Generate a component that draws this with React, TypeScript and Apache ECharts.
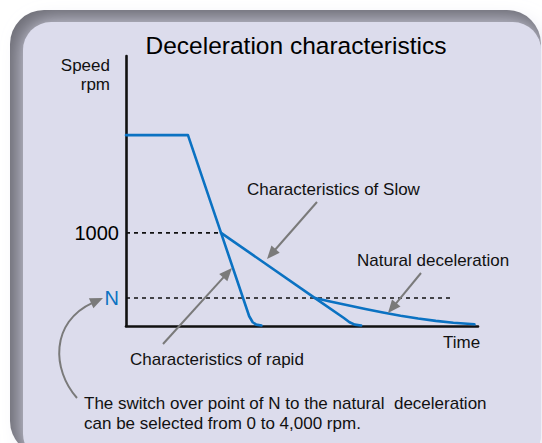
import React, { useEffect, useRef } from 'react';
import * as echarts from 'echarts';

// ---- data (time in arbitrary units 0..100, speed in rpm) ----
const timeRapid = [0, 17.6, 27, 35, 36, 37, 38.5];
const speedRapid = [2050, 2050, 1000, 105, 40, 15, 5];
const timeSlow = [27, 53.7, 61.9, 63.5, 65, 66.8];
const speedSlow = [1000, 300, 86, 40, 15, 5];
const timeNatural = [53.7, 58, 63, 68, 73, 78, 83, 88, 93, 99];
const speedNatural = [300, 262, 222, 182, 145, 110, 80, 55, 35, 18];
const levelValues = [300, 1000];
const levelLabels = ['N', '1000'];
const levelDashEnds = [92.6, 27];

const FONT = "'Liberation Sans', Arial, Helvetica, sans-serif";
const BLUE = '#0b72c2';
const ARROW = '#7a7a7a';

const zip = (xs: number[], ys: number[]) => xs.map((x, i) => [x, ys[i]]);

function arrow(x1: number, y1: number, x2: number, y2: number, dirFrom?: [number, number]) {
  const fx = dirFrom ? dirFrom[0] : x1;
  const fy = dirFrom ? dirFrom[1] : y1;
  const dx = x2 - fx, dy = y2 - fy;
  const len = Math.hypot(dx, dy);
  const ux = dx / len, uy = dy / len;
  const hl = 13, hw = 5.5;
  const bx = x2 - ux * hl, by = y2 - uy * hl;
  const nx = -uy, ny = ux;
  return {
    base: [bx + ux * 2, by + uy * 2],
    head: {
      type: 'polygon',
      shape: { points: [[x2, y2], [bx + nx * hw, by + ny * hw], [bx - nx * hw, by - ny * hw]] },
      style: { fill: ARROW },
      z: 50,
    },
  };
}

function straightArrow(x1: number, y1: number, x2: number, y2: number) {
  const a = arrow(x1, y1, x2, y2);
  return [
    {
      type: 'line',
      shape: { x1, y1, x2: a.base[0], y2: a.base[1] },
      style: { stroke: ARROW, lineWidth: 2 },
      z: 50,
    },
    a.head,
  ];
}

function text(x: number, y: number, t: string, size: number, align = 'left', fill = '#111') {
  return {
    type: 'text',
    x,
    y,
    z: 50,
    style: {
      text: t,
      fill,
      font: `${size}px ${FONT}`,
      textAlign: align,
      textVerticalAlign: 'middle',
    },
  };
}

export default function App() {
  const ref = useRef<HTMLDivElement>(null);
  useEffect(() => {
    if (!ref.current) return;
    const chart = echarts.init(ref.current, undefined, { renderer: 'svg' });

    const nTip: [number, number] = [103, 298];
    const nCp2: [number, number] = [50, 322];
    const nArrow = arrow(77, 398, nTip[0], nTip[1], nCp2);

    const graphics: any[] = [
      {
        type: 'rect',
        shape: { x: 10, y: 10, width: 531, height: 445, r: 34 },
        style: { fill: '#6c6c75' },
        z: -100,
      },
      {
        type: 'rect',
        shape: { x: 23, y: 22, width: 518, height: 440, r: 28 },
        style: { fill: '#dcdcec', shadowBlur: 22, shadowColor: '#dcdcec' },
        z: -99,
      },
      {
        type: 'rect',
        shape: { x: 24, y: 23, width: 517, height: 440, r: 28 },
        style: { fill: '#dcdcec' },
        z: -98,
      },
      text(296, 45, 'Deceleration characteristics', 24.5, 'center', '#000'),
      text(110, 65, 'Speed', 17, 'right'),
      text(110, 84, 'rpm', 17, 'right'),
      text(443, 342, 'Time', 17),
      text(247, 189, 'Characteristics of Slow', 17),
      text(357, 260, 'Natural deceleration', 17),
      text(130, 359, 'Characteristics of rapid', 17),
      text(84, 403, 'The switch over point of N to the natural  deceleration', 17),
      text(84, 423, 'can be selected from 0 to 4,000 rpm.', 17),
      ...straightArrow(317, 202, 267, 259),
      ...straightArrow(421, 273, 388, 313),
      ...straightArrow(163, 344, 232, 268),
      {
        type: 'bezierCurve',
        shape: {
          x1: 77, y1: 398,
          cpx1: 52, cpy1: 370,
          cpx2: nCp2[0], cpy2: nCp2[1],
          x2: nArrow.base[0], y2: nArrow.base[1],
        },
        style: { stroke: ARROW, lineWidth: 2, fill: 'none' },
        z: 50,
      },
      nArrow.head,
    ];

    const dashSeries = levelValues.map((v, i) => ({
      type: 'line',
      data: [[0, v], [levelDashEnds[i], v]],
      symbol: 'none',
      silent: true,
      z: 1,
      lineStyle: { color: '#111', width: 1.6, type: [4, 4] },
    }));

    const lineSeries = (xs: number[], ys: number[]) => ({
      type: 'line',
      data: zip(xs, ys),
      symbol: 'none',
      z: 3,
      lineStyle: { color: BLUE, width: 2.6, cap: 'round', join: 'round' },
    });

    chart.setOption({
      animation: false,
      grid: { left: 126, top: 56, right: 64, bottom: 117, containLabel: false },
      xAxis: {
        type: 'value',
        min: 0,
        max: 100,
        axisLine: { show: true, onZero: false, lineStyle: { color: '#111', width: 2.6 } },
        axisTick: { show: false },
        axisLabel: { show: false },
        splitLine: { show: false },
      },
      yAxis: {
        type: 'value',
        min: 0,
        max: 2900,
        axisLine: { show: true, onZero: false, lineStyle: { color: '#111', width: 2.6 } },
        axisTick: { show: false },
        splitLine: { show: false },
        axisLabel: {
          show: true,
          customValues: levelValues,
          margin: 7,
          formatter: (v: number) => {
            const i = levelValues.indexOf(v);
            const lab = i >= 0 ? levelLabels[i] : '';
            return lab === 'N' ? `{n|${lab}}` : `{k|${lab}}`;
          },
          rich: {
            n: { color: BLUE, fontSize: 20, fontFamily: FONT },
            k: { color: '#000', fontSize: 20, fontFamily: FONT },
          },
        },
      },
      series: [
        ...dashSeries,
        lineSeries(timeRapid, speedRapid),
        lineSeries(timeSlow, speedSlow),
        lineSeries(timeNatural, speedNatural),
      ],
      graphic: { elements: graphics },
    });

    return () => chart.dispose();
  }, []);

  return (
    <div
      ref={ref}
      style={{ position: 'fixed', left: 0, top: 0, width: 542, height: 443, background: '#fff' }}
    />
  );
}
